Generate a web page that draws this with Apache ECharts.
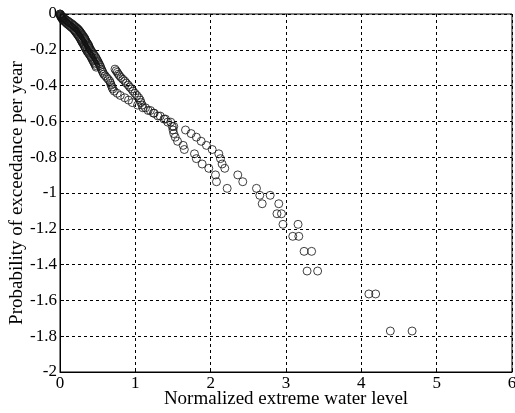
<!DOCTYPE html>
<html>
<head>
<meta charset="utf-8">
<script src="https://cdn.jsdelivr.net/npm/echarts@6/dist/echarts.min.js"></script>
<style>html,body{margin:0;padding:0;background:#fff;}#c{width:515px;height:413px;}</style>
</head>
<body>
<div id="c"></div>
<script>
const xTicks = [0, 1, 2, 3, 4, 5, 6];
const yTicks = [0, -0.2, -0.4, -0.6, -0.8, -1, -1.2, -1.4, -1.6, -1.8, -2];
const yValues = [
 -1.771, -1.564, -1.436, -1.326, -1.242, -1.175, -1.116, -1.060, -1.013, -0.974,
 -0.937, -0.899, -0.862, -0.838, -0.808, -0.781, -0.757, -0.734, -0.711, -0.688,
 -0.668, -0.648, -0.628, -0.604, -0.587, -0.570, -0.554, -0.539, -0.524, -0.509,
 -0.495, -0.481, -0.468, -0.455, -0.443, -0.431, -0.419, -0.408, -0.397, -0.386,
 -0.375, -0.365, -0.355, -0.345, -0.336, -0.326, -0.317, -0.308, -0.297, -0.288,
 -0.279, -0.271, -0.263, -0.255, -0.247, -0.239, -0.231, -0.224, -0.216, -0.209,
 -0.202, -0.195, -0.188, -0.181, -0.175, -0.168, -0.162, -0.155, -0.149, -0.143,
 -0.137, -0.131, -0.125, -0.119, -0.113, -0.107, -0.101, -0.096, -0.090, -0.085,
 -0.079, -0.074, -0.069, -0.063, -0.058, -0.053, -0.048, -0.043, -0.038, -0.033,
 -0.029, -0.024, -0.019, -0.014, -0.010, -0.005, 0.000];
const xSeriesA = [
 4.385, 4.10, 3.28, 3.24, 3.09, 2.96, 2.88, 2.684, 2.652, 2.219,
 2.077, 2.064, 1.975, 1.887, 1.81, 1.785, 1.65, 1.635, 1.56, 1.53,
 1.51, 1.50, 1.49, 1.43, 1.38, 1.30, 1.24, 1.17, 1.10, 1.03,
 0.96, 0.91, 0.86, 0.80, 0.76, 0.72, 0.70, 0.69, 0.68, 0.67,
 0.66, 0.64, 0.62, 0.60, 0.58, 0.57, 0.56, 0.55, 0.48, 0.47,
 0.46, 0.45, 0.44, 0.43, 0.42, 0.41, 0.40, 0.385, 0.375, 0.36,
 0.355, 0.34, 0.335, 0.325, 0.32, 0.31, 0.30, 0.29, 0.285, 0.275,
 0.27, 0.26, 0.25, 0.24, 0.23, 0.22, 0.21, 0.20, 0.19, 0.18,
 0.165, 0.15, 0.135, 0.12, 0.105, 0.09, 0.08, 0.065, 0.05, 0.04,
 0.032, 0.025, 0.017, 0.01, 0.006, 0.003, 0.0];
const xSeriesB = [
 4.674, 4.19, 3.42, 3.34, 3.17, 3.16, 2.94, 2.904, 2.79, 2.608,
 2.426, 2.36, 2.187, 2.152, 2.13, 2.108, 2.02, 1.944, 1.874, 1.81,
 1.74, 1.666, 1.51, 1.47, 1.40, 1.33, 1.25, 1.20, 1.135, 1.09,
 1.075, 1.065, 1.045, 1.02, 0.995, 0.97, 0.95, 0.925, 0.905, 0.88,
 0.86, 0.835, 0.81, 0.79, 0.775, 0.76, 0.745, 0.73, 0.54, 0.53,
 0.52, 0.51, 0.50, 0.49, 0.48, 0.47, 0.455, 0.445, 0.43, 0.42,
 0.41, 0.40, 0.39, 0.385, 0.38, 0.37, 0.36, 0.35, 0.34, 0.335,
 0.33, 0.32, 0.31, 0.30, 0.29, 0.28, 0.27, 0.26, 0.25, 0.24,
 0.225, 0.21, 0.195, 0.18, 0.165, 0.15, 0.13, 0.115, 0.10, 0.08,
 0.066, 0.053, 0.04, 0.028, 0.017, 0.009, 0.002];

const xLabel = 'Normalized extreme water level';
const yLabel = 'Probability of exceedance per year';

const dataA = xSeriesA.map((x, i) => [x, yValues[i]]);
const dataB = xSeriesB.map((x, i) => [x, yValues[i]]);

const FONT = '"Liberation Serif", "DejaVu Serif", serif';
const chart = echarts.init(document.getElementById('c'), null, {renderer: 'canvas'});
const markerStyle = {color: 'rgba(0,0,0,0)', borderColor: '#111', borderWidth: 1};
chart.setOption({
  animation: false,
  backgroundColor: '#fff',
  grid: {left: 60, right: 3, top: 14, bottom: 41, containLabel: false, outerBoundsMode: 'none',
    show: true, borderColor: '#000', borderWidth: 1, backgroundColor: 'transparent'},
  xAxis: {
    type: 'value', min: 0, max: 6, interval: 1,
    name: xLabel, nameLocation: 'middle', nameGap: 18, nameMoveOverlap: false,
    nameTextStyle: {fontFamily: FONT, fontSize: 19, color: '#000'},
    axisLine: {show: true, onZero: false, lineStyle: {color: '#000', width: 1}},
    axisTick: {show: true, inside: true, length: 4, lineStyle: {color: '#000'}},
    axisLabel: {fontFamily: FONT, fontSize: 17, color: '#000', margin: 3,
      formatter: v => xTicks.includes(v) ? String(v) : ''},
    splitLine: {show: true, lineStyle: {color: '#000', type: [3, 3], width: 1}}
  },
  yAxis: {
    type: 'value', min: -2, max: 0, interval: 0.2,
    name: yLabel, nameLocation: 'middle', nameGap: 33, nameMoveOverlap: false,
    nameTextStyle: {fontFamily: FONT, fontSize: 19, color: '#000'},
    axisLine: {show: true, onZero: false, lineStyle: {color: '#000', width: 1}},
    axisTick: {show: true, inside: true, length: 4, lineStyle: {color: '#000'}},
    axisLabel: {fontFamily: FONT, fontSize: 17, color: '#000', margin: 3,
      formatter: v => { const t = yTicks.find(k => Math.abs(k - v) < 1e-9); return t === undefined ? '' : String(t); }},
    splitLine: {show: true, lineStyle: {color: '#000', type: [3, 3], width: 1}}
  },
  series: [
    {type: 'scatter', name: 'A', data: dataA, symbol: 'circle', symbolSize: 8, clip: false, itemStyle: markerStyle},
    {type: 'scatter', name: 'B', data: dataB, symbol: 'circle', symbolSize: 8, clip: false, itemStyle: markerStyle}
  ]
});
</script>
</body>
</html>
